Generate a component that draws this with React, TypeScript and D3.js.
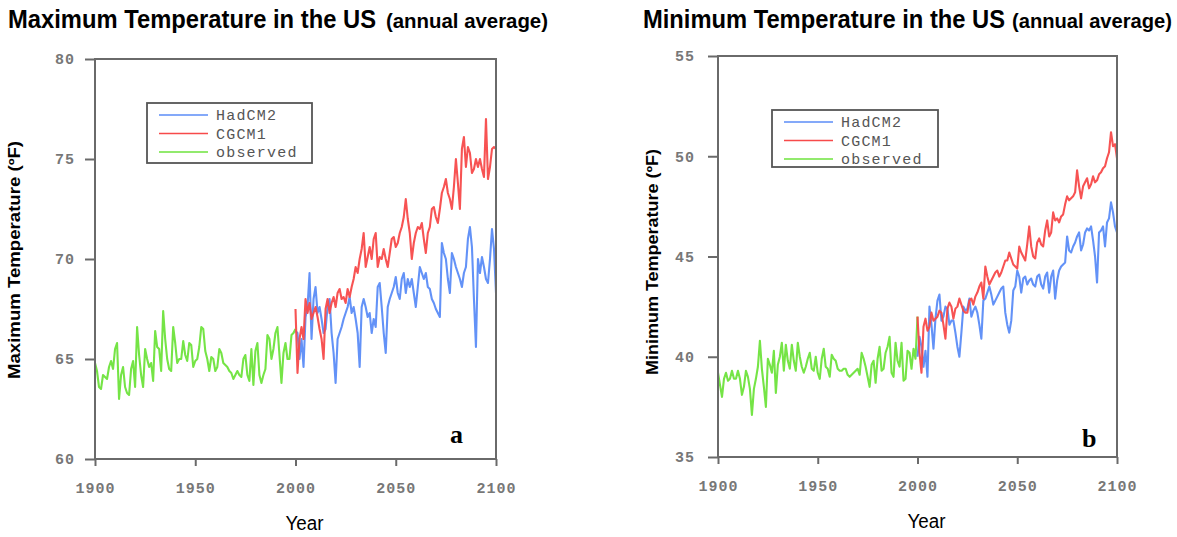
import React, { useEffect, useRef } from 'react';
import * as d3 from 'd3';

// x positions: observed runs 1900-2000, model runs 2000-2100 (annual)
const histYears = d3.range(1900, 2001);
const projYears = d3.range(2000, 2101);
const yearTicks = [1900, 1950, 2000, 2050, 2100];
const maxTicks = [60, 65, 70, 75, 80];
const minTicks = [35, 40, 45, 50, 55];
const seriesNames = ['HadCM2', 'CGCM1', 'observed'];
const seriesColors = ['#5b8cf7', '#f74a4a', '#6ee33c'];

// panel a: maximum temperature (°F)
const maxObserved = [
  64.8, 64.4, 63.6, 63.5, 64.2, 64.1, 64.0, 64.6, 64.9, 64.5,
  65.5, 65.8, 63.0, 64.2, 64.6, 63.6, 63.3, 63.2, 64.5, 64.9,
  63.6, 66.6, 65.2, 64.2, 63.6, 65.5, 65.0, 64.6, 64.8, 63.9,
  66.4, 65.6, 65.5, 64.4, 67.4, 66.0, 65.0, 64.5, 64.4, 66.6,
  65.8, 64.8, 65.0, 65.0, 65.9, 65.2, 64.9, 65.8, 65.7, 64.6,
  64.9, 65.0, 65.6, 66.6, 66.5, 65.4, 65.0, 64.4, 65.1, 65.0,
  64.4, 64.6, 65.5, 65.3, 64.8, 64.7, 64.6, 64.4, 64.3, 64.0,
  64.2, 64.4, 64.2, 64.1, 65.0, 65.2, 64.2, 63.9, 65.5, 63.7,
  65.4, 65.8, 64.2, 63.8, 64.2, 64.5, 66.2, 66.0, 65.0, 65.5,
  66.3, 66.6, 65.2, 63.8, 65.3, 65.8, 65.0, 65.0, 66.2, 66.3,
  66.5,
];
const maxHadCM2 = [
  66.4, 66.3, 65.0, 66.0, 64.6, 67.1, 67.6, 69.3, 66.0, 68.0,
  68.6, 67.3, 67.6, 67.0, 66.3, 66.5, 67.6, 68.0, 66.3, 65.3,
  63.8, 66.0, 66.3, 66.6, 67.0, 67.3, 67.6, 68.1, 67.3, 67.6,
  67.0, 66.3, 64.6, 67.6, 68.0, 67.6, 67.1, 67.3, 66.3, 67.0,
  66.6, 68.6, 68.8, 67.6, 66.3, 65.3, 67.6, 68.0, 68.3, 68.6,
  69.1, 68.3, 68.0, 69.0, 69.3, 68.3, 69.0, 68.6, 69.0, 68.3,
  67.6, 68.6, 69.6, 69.3, 69.0, 69.3, 68.6, 68.5, 68.0, 67.8,
  67.5, 67.3, 67.1, 70.8, 70.3, 70.0, 69.0, 68.3, 70.3, 70.0,
  69.6, 69.3, 69.0, 68.6, 69.3, 69.6, 71.0, 71.6, 70.6, 68.0,
  65.6, 70.0, 69.3, 70.1, 69.6, 69.0, 68.8, 70.0, 71.5, 70.5,
  68.3,
];
const maxCGCM1 = [
  67.5, 64.3, 66.0, 66.6, 66.0, 68.0, 67.3, 67.8, 67.0, 67.3,
  67.6, 67.1, 66.5, 66.0, 65.0, 67.5, 68.0, 67.3, 67.8, 68.1,
  67.6, 68.3, 68.5, 68.0, 68.1, 67.8, 68.5, 68.1, 68.6, 69.0,
  69.6, 69.3, 70.0, 70.5, 71.3, 69.6, 70.1, 70.6, 70.0, 71.0,
  71.3, 69.6, 70.1, 70.0, 70.5, 70.0, 69.6, 70.3, 71.0, 71.1,
  70.6, 70.8, 71.3, 71.6, 72.1, 73.0, 72.0, 71.3, 70.0, 70.8,
  71.3, 71.6, 71.5, 71.8, 71.0, 70.3, 71.3, 71.6, 72.5, 72.6,
  72.1, 71.8, 72.5, 73.3, 73.6, 74.0, 73.3, 73.0, 72.5, 73.6,
  75.0, 73.8, 72.5, 75.5, 76.1, 74.6, 75.6, 75.3, 74.3, 74.5,
  75.0, 74.6, 75.0, 74.5, 74.1, 77.0, 74.0, 74.6, 75.5, 75.6,
  75.5,
];

// panel b: minimum temperature (°F)
const minObserved = [
  39.2, 38.6, 38.0, 38.9, 39.2, 38.8, 38.9, 39.3, 38.9, 38.9,
  39.3, 38.9, 38.1, 38.5, 39.3, 39.0, 38.4, 37.1, 38.4, 38.9,
  39.5, 40.8, 39.4, 38.5, 37.5, 39.9, 39.6, 39.2, 40.3, 38.2,
  39.6, 40.0, 40.7, 39.3, 40.6, 39.8, 39.4, 40.6, 39.8, 39.3,
  40.7, 40.0, 39.5, 39.2, 39.5, 39.9, 40.2, 39.4, 39.3, 40.0,
  39.2, 38.9, 39.9, 40.4, 39.5, 39.4, 39.0, 40.1, 39.9, 39.8,
  39.4, 39.3, 39.3, 39.4, 39.4, 39.1, 39.0, 39.1, 39.2, 39.3,
  39.4, 39.1, 40.2, 39.9, 39.5, 39.0, 38.5, 39.6, 39.8, 38.7,
  39.9, 40.5, 39.3, 39.4, 40.2, 40.5, 41.0, 39.2, 39.0, 40.7,
  39.8, 39.5, 40.7, 38.8, 38.9, 40.3, 40.2, 39.4, 40.4, 39.9,
  42.0,
];
const minHadCM2 = [
  40.0, 41.0, 40.5, 39.5, 40.3, 39.0, 42.5, 41.6, 40.4, 41.9,
  42.8, 43.1, 41.8, 42.0, 42.5, 42.4, 41.6, 41.8, 41.8, 41.2,
  40.5, 40.0, 41.2, 42.5, 42.3, 42.4, 42.9, 42.0, 42.3, 42.5,
  42.2, 41.6, 40.9, 42.8, 42.9, 43.2, 43.5, 43.1, 42.6, 42.8,
  43.0, 43.2, 43.4, 43.5, 42.2, 41.6, 41.2, 41.8, 43.3, 43.5,
  44.3, 44.0, 43.2, 43.9, 44.0, 43.6, 43.8, 43.9, 43.6, 43.5,
  44.0, 44.1, 43.6, 43.4, 44.0, 44.2, 43.2, 44.0, 44.3, 42.9,
  43.8, 44.3, 44.5, 44.6, 44.7, 46.0, 45.3, 45.2, 45.5, 45.7,
  46.0, 46.2, 45.3, 45.6, 46.2, 46.4, 46.3, 46.5, 45.8, 45.0,
  43.7, 46.2, 46.3, 46.5, 45.5, 46.7, 46.9, 47.7, 47.2, 46.5,
  46.2,
];
const minCGCM1 = [
  42.0, 40.2, 39.2, 41.5, 41.9, 41.3, 41.5, 42.2, 41.8, 41.9,
  42.0, 42.3, 42.2, 41.6, 40.9, 42.4, 42.7, 42.5, 41.9, 42.4,
  42.5, 42.9, 42.6, 42.3, 42.2, 42.2, 42.8, 42.9, 42.6, 43.0,
  43.2, 43.5, 43.7, 42.9, 44.5, 44.0, 43.6, 43.8, 44.0, 44.2,
  44.3, 44.0, 44.2, 44.5, 44.8, 44.8, 45.2, 44.9, 44.6, 44.5,
  44.4, 45.5, 45.2, 45.0, 44.8, 45.6, 46.5, 45.5, 45.0, 44.9,
  45.7, 45.9, 45.6, 45.5, 46.3, 46.8, 46.0, 46.2, 47.2, 46.8,
  46.9, 46.7, 47.0, 47.1, 47.6, 48.0, 47.8, 47.9, 48.0, 48.2,
  49.3, 48.5, 47.9, 48.5, 48.7, 48.9, 48.4, 48.6, 49.0, 48.7,
  48.8, 49.1, 49.2, 49.4, 49.5, 49.9, 50.2, 51.2, 50.5, 50.6,
  49.9,
];

const titleFont = "'Liberation Sans Narrow', 'Arial Narrow', 'Liberation Sans', Arial, sans-serif";
const monoFont = "'Liberation Mono', 'DejaVu Sans Mono', monospace";

const panels = [
  {
    frame: { left: 95, right: 496, top: 59, bottom: 459 },
    yTicks: maxTicks,
    observed: maxObserved, had: maxHadCM2, cgcm: maxCGCM1,
    title: 'Maximum Temperature in the US', titleX: 8, titleW: 368,
    subX: 386, subW: 162,
    yLabel: 'Maximum Temperature (ºF)', yLabelX: 22, yLabelY: 260, yLabelW: 238,
    tickPad: 10, xLabelY: 530, letter: 'a', letterX: 450, letterY: 443,
    legend: { x: 147, y: 103, w: 165, h: 60 },
  },
  {
    frame: { left: 718, right: 1117, top: 56, bottom: 457 },
    yTicks: minTicks,
    observed: minObserved, had: minHadCM2, cgcm: minCGCM1,
    title: 'Minimum Temperature  in the US', titleX: 643, titleW: 362,
    subX: 1012, subW: 160,
    yLabel: 'Minimum Temperature (ºF)', yLabelX: 660, yLabelY: 262, yLabelW: 226,
    tickPad: 13, xLabelY: 528, letter: 'b', letterX: 1082, letterY: 447,
    legend: { x: 772, y: 110, w: 166, h: 57 },
  },
];

const drawPanel = (svg, p) => {
  const { left, right, top, bottom } = p.frame;
  const x = d3.scaleLinear().domain([1900, 2100]).range([left, right]);
  const y = d3.scaleLinear().domain(d3.extent(p.yTicks)).range([bottom, top]);
  const g = svg.append('g');

  // title (squeezed to look like a condensed bold face)
  const t = g.append('g').attr('font-family', titleFont).attr('font-weight', 'bold').attr('fill', '#000');
  t.append('text').attr('x', p.titleX).attr('y', 28).attr('font-size', 25)
    .attr('textLength', p.titleW).attr('lengthAdjust', 'spacingAndGlyphs').text(p.title);
  t.append('text').attr('x', p.subX).attr('y', 28).attr('font-size', 20)
    .attr('textLength', p.subW).attr('lengthAdjust', 'spacingAndGlyphs').text('(annual average)');

  // lines
  const line = (years) => d3.line().x((d, i) => x(years[i])).y((d) => y(d));
  const series = [
    { values: p.observed, years: histYears, color: seriesColors[2] },
    { values: p.had, years: projYears, color: seriesColors[0] },
    { values: p.cgcm, years: projYears, color: seriesColors[1] },
  ];
  series.forEach((s) => {
    g.append('path')
      .datum(s.values)
      .attr('d', line(s.years))
      .attr('fill', 'none')
      .attr('stroke', s.color)
      .attr('stroke-width', 2.1)
      .attr('stroke-opacity', 0.95)
      .attr('stroke-linejoin', 'round');
  });

  // frame
  g.append('rect')
    .attr('x', left).attr('y', top)
    .attr('width', right - left).attr('height', bottom - top)
    .attr('fill', 'none').attr('stroke', '#6a6a6a').attr('stroke-width', 2);

  // axes
  const yAxis = g.append('g')
    .attr('transform', `translate(${left},0)`)
    .call(d3.axisLeft(y).tickValues(p.yTicks).tickSize(10).tickPadding(p.tickPad));
  const xAxis = g.append('g')
    .attr('transform', `translate(0,${bottom})`)
    .call(d3.axisBottom(x).tickValues(yearTicks).tickSize(7).tickPadding(16).tickFormat(d3.format('d')));
  [yAxis, xAxis].forEach((a) => {
    a.select('.domain').remove();
    a.selectAll('line').attr('stroke', '#6a6a6a').attr('stroke-width', 2);
    a.selectAll('text')
      .attr('font-family', monoFont)
      .attr('font-size', 15)
      .attr('font-weight', 'bold')
      .attr('letter-spacing', 1)
      .attr('fill', '#777');
  });

  // axis titles
  g.append('text')
    .attr('transform', `translate(${p.yLabelX - 2},${p.yLabelY}) rotate(-90)`)
    .attr('text-anchor', 'middle')
    .attr('font-family', "'Liberation Sans', Arial, sans-serif")
    .attr('font-weight', 'bold')
    .attr('font-size', 16)
    .attr('textLength', p.yLabelW).attr('lengthAdjust', 'spacingAndGlyphs')
    .text(p.yLabel);
  g.append('text')
    .attr('x', x(2000) - 10).attr('y', p.xLabelY)
    .attr('font-family', titleFont)
    .attr('font-size', 20)
    .attr('textLength', 38).attr('lengthAdjust', 'spacingAndGlyphs')
    .text('Year');

  // panel letter
  g.append('text')
    .attr('x', p.letterX).attr('y', p.letterY)
    .attr('font-family', "'Liberation Serif', 'Times New Roman', serif")
    .attr('font-weight', 'bold')
    .attr('font-size', 26)
    .text(p.letter);

  // legend
  const L = p.legend;
  const lg = g.append('g');
  lg.append('rect')
    .attr('x', L.x).attr('y', L.y).attr('width', L.w).attr('height', L.h)
    .attr('fill', '#fff').attr('stroke', '#555').attr('stroke-width', 1.8);
  seriesNames.forEach((name, i) => {
    const ry = L.y + 12 + i * 18.5;
    lg.append('line')
      .attr('x1', L.x + 12).attr('x2', L.x + 61)
      .attr('y1', ry).attr('y2', ry)
      .attr('stroke', seriesColors[i]).attr('stroke-width', 1.5);
    lg.append('text')
      .attr('x', L.x + 69).attr('y', ry + 5)
      .attr('font-family', monoFont)
      .attr('font-size', 15)
      .attr('letter-spacing', 1.2)
      .attr('fill', '#555')
      .text(name);
  });
};

const App = () => {
  const svgRef = useRef(null);

  useEffect(() => {
    const svg = d3.select(svgRef.current);
    svg.selectAll('*').remove();
    panels.forEach((p) => drawPanel(svg, p));
  }, []);

  return (
    <div style={{ position: 'absolute', left: 0, top: 0 }}>
      <svg ref={svgRef} width={1177} height={537} style={{ display: 'block', background: '#fff' }} />
    </div>
  );
};

export default App;
